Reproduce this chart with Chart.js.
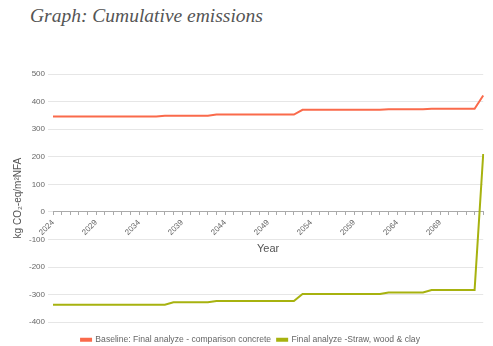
<!DOCTYPE html>
<html>
<head>
<meta charset="utf-8">
<script src="https://cdn.jsdelivr.net/npm/chart.js@4/dist/chart.umd.min.js"></script>
<style>
  html, body { margin: 0; padding: 0; background: #fff; }
  body { width: 493px; height: 346px; position: relative; overflow: hidden; }
  #title { position: absolute; left: 30px; top: 5px; font-family: "Liberation Serif", "DejaVu Serif", serif; font-style: italic; font-size: 19.5px; color: #555; white-space: nowrap; }
  #wrap { position: absolute; left: 0; top: 58px; width: 493px; height: 296px; }
</style>
</head>
<body>
<div id="title">Graph: Cumulative emissions</div>
<div id="wrap"><canvas id="c"></canvas></div>
<script>
const years = [];
for (let y = 2024; y <= 2074; y++) years.push(String(y));

const baselineLabel = "Baseline: Final analyze - comparison concrete";
const strawLabel = "Final analyze -Straw, wood & clay";

const baselineValues = [
  346, 346, 346, 346, 346, 346, 346, 346, 346, 346, 346, 346, 346,
  349, 349, 349, 349, 349, 349,
  353, 353, 353, 353, 353, 353, 353, 353, 353, 353,
  370, 370, 370, 370, 370, 370, 370, 370, 370, 370,
  372, 372, 372, 372, 372,
  374, 374, 374, 374, 374, 374,
  422
];
const strawValues = [
  -337, -337, -337, -337, -337, -337, -337, -337, -337, -337, -337, -337, -337, -337,
  -328, -328, -328, -328, -328,
  -323, -323, -323, -323, -323, -323, -323, -323, -323, -323,
  -298, -298, -298, -298, -298, -298, -298, -298, -298, -298,
  -292, -292, -292, -292, -292,
  -283, -283, -283, -283, -283, -283,
  210
];
const yTicks = [500, 400, 300, 200, 100, 0, -100, -200, -300, -400];

new Chart(document.getElementById('c'), {
  type: 'line',
  data: {
    labels: years,
    datasets: [
      { label: baselineLabel, data: baselineValues, borderColor: '#fa6a4b', backgroundColor: '#fa6a4b', borderWidth: 2, pointRadius: 0, tension: 0 },
      { label: strawLabel, data: strawValues, borderColor: '#a7b20f', backgroundColor: '#a7b20f', borderWidth: 2, pointRadius: 0, tension: 0 }
    ]
  },
  options: {
    responsive: true,
    maintainAspectRatio: false,
    animation: false,
    layout: { padding: { top: 16, right: 2, left: 10, bottom: 0 } },
    plugins: {
      legend: {
        position: 'bottom',
        title: { display: true, text: ' ', font: { size: 1 }, padding: { top: 0, bottom: 6 } },
        labels: { boxWidth: 10, boxHeight: 2, font: { family: 'Liberation Sans', size: 8.6 }, color: '#666', padding: 6 }
      },
      tooltip: { enabled: false }
    },
    scales: {
      x: {
        position: { y: 0 },
        offset: false,
        grid: { drawOnChartArea: false, color: '#aaa', tickLength: 3 },
        border: { color: '#aaa' },
        ticks: {
          autoSkip: false, minRotation: 45, maxRotation: 45,
          font: { family: 'Liberation Sans', size: 8 }, color: '#666',
          callback: function (v, i) { return (i % 5 === 0 && i < 50) ? years[i] : ''; }
        },
        title: { display: true, text: 'Year', font: { family: 'Liberation Sans', size: 11 }, color: '#555', padding: 2 }
      },
      y: {
        min: -400, max: 500,
        afterBuildTicks: function (axis) { axis.ticks = yTicks.map(v => ({ value: v })); },
        grid: { color: '#e6e6e6', tickLength: 5, tickColor: '#e6e6e6' },
        border: { display: false },
        ticks: { font: { family: 'Liberation Sans', size: 8 }, color: '#666', padding: 3 },
        title: { display: true, text: 'kg CO₂-eq/m²NFA', font: { family: 'Liberation Sans', size: 10 }, color: '#555', padding: 2 }
      }
    }
  }
});
</script>
</body>
</html>
